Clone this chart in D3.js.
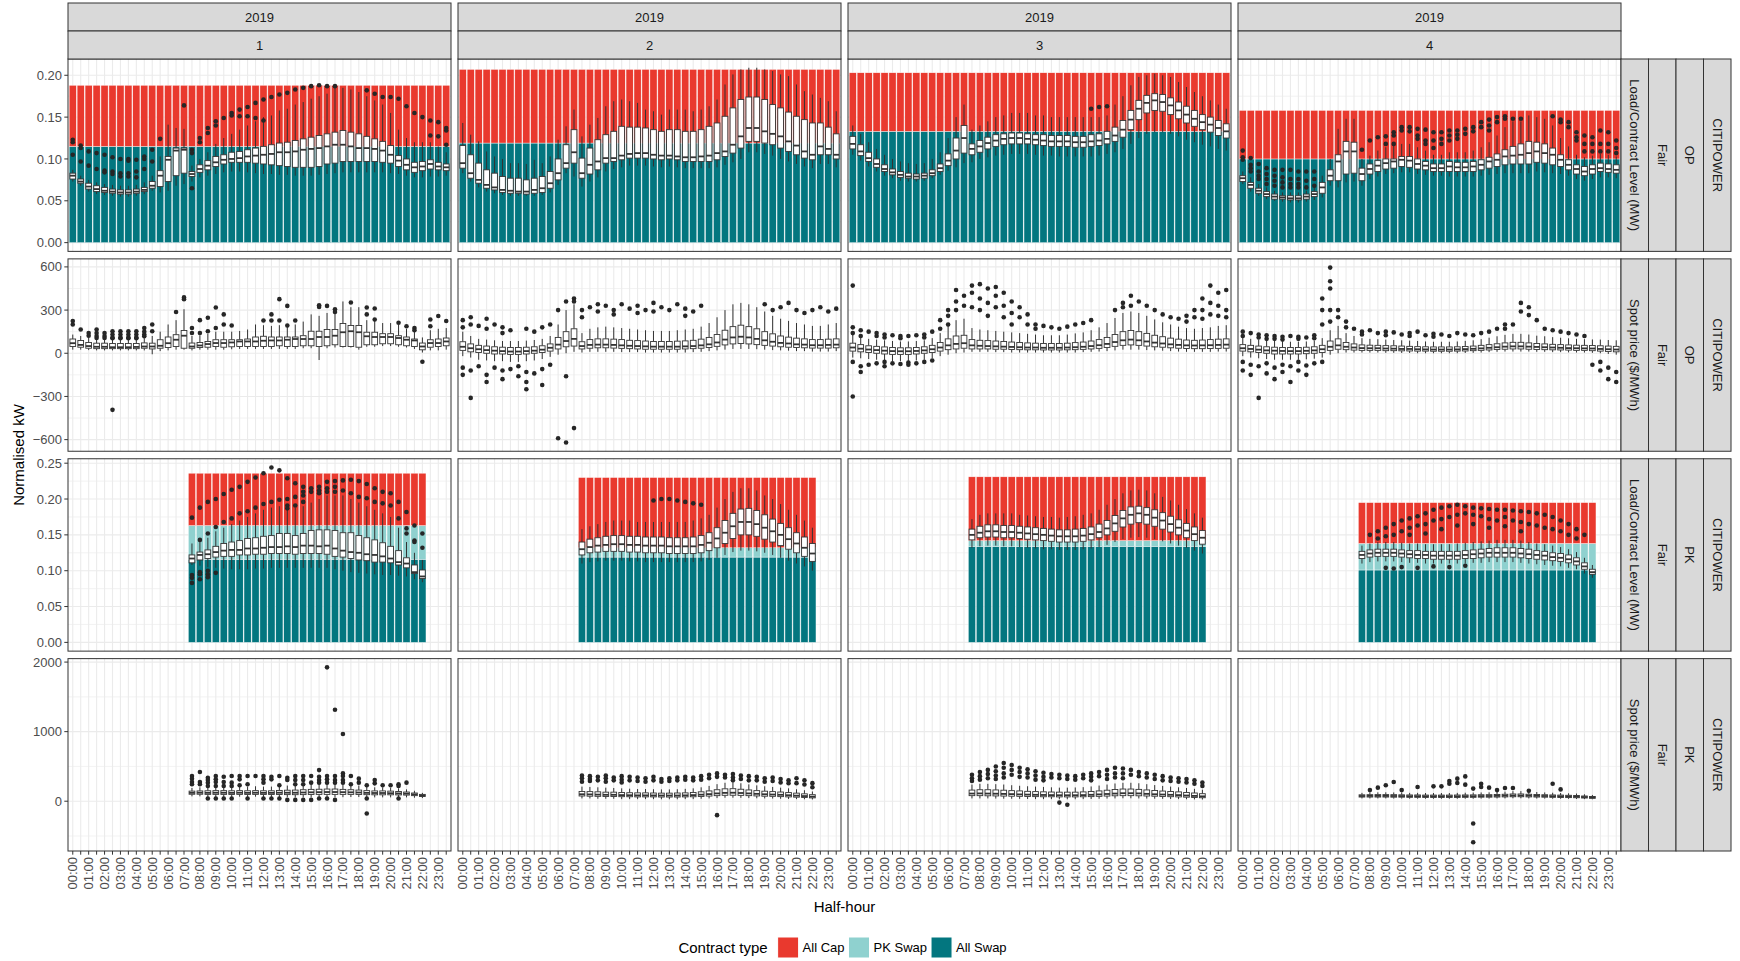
<!DOCTYPE html>
<html>
<head>
<meta charset="utf-8">
<script src="https://cdn.jsdelivr.net/npm/d3@7"></script>
<style>
  body { margin: 0; background: #fff; }
  text { font-family: "Liberation Sans", Arial, sans-serif; }
</style>
</head>
<body>
<svg id="chart" width="1740" height="961"></svg>
<script>
// ---- categories / labels ----
const slots = ["00:00","00:30","01:00","01:30","02:00","02:30","03:00","03:30","04:00","04:30","05:00","05:30",
  "06:00","06:30","07:00","07:30","08:00","08:30","09:00","09:30","10:00","10:30","11:00","11:30",
  "12:00","12:30","13:00","13:30","14:00","14:30","15:00","15:30","16:00","16:30","17:00","17:30",
  "18:00","18:30","19:00","19:30","20:00","20:30","21:00","21:30","22:00","22:30","23:00","23:30"];
const pkSlotRange = ["07:30", "22:00"];
const quarters = ["1", "2", "3", "4"];
const yearLabel = "2019";
const measureLabels = ["Load/Contract Level (MW)", "Spot price ($/MWh)"];
const periodLabels = ["OP", "PK"];
const scenarioLabel = "Fair";
const regionLabel = "CITIPOWER";

const contractTypes = ["All Cap", "PK Swap", "All Swap"];
const contractColors = ["#E9392E", "#8FD1CF", "#03767F"];

// contract levels (MW) per quarter, stacked: All Swap + PK Swap + All Cap
const opAllSwap = [0.115, 0.119, 0.133, 0.100];
const opPkSwap  = [0, 0, 0, 0];
const opAllCap  = [0.073, 0.088, 0.070, 0.058];
const pkAllSwap = [0.116, 0.119, 0.134, 0.101];
const pkPkSwap  = [0.047, 0.013, 0.008, 0.037];
const pkAllCap  = [0.073, 0.098, 0.089, 0.057];

// y ticks per row
const opLoadTicks = [0, 0.05, 0.10, 0.15, 0.20];
const opSpotTicks = [-600, -300, 0, 300, 600];
const pkLoadTicks = [0, 0.05, 0.10, 0.15, 0.20, 0.25];
const pkSpotTicks = [0, 1000, 2000];

// ---- box plots: [lower whisker, q1, median, q3, upper whisker] per half-hour ----
// OP load (MW), 48 half-hours
const opLoadQ1 = [
[.073,.076,.080,.083,.087],[.068,.071,.073,.076,.080],[.061,.064,.067,.071,.075],[.058,.061,.064,.068,.072],
[.057,.060,.062,.066,.070],[.056,.059,.061,.064,.069],[.055,.058,.060,.063,.068],[.055,.058,.060,.063,.068],
[.056,.059,.061,.064,.069],[.058,.061,.063,.066,.072],[.062,.065,.068,.073,.080],[.060,.067,.080,.086,.103],
[.062,.073,.099,.103,.141],[.068,.080,.110,.113,.137],[.070,.083,.111,.113,.136],[.073,.079,.082,.085,.092],
[.078,.084,.088,.093,.100],[.080,.087,.092,.098,.108],[.082,.091,.096,.103,.118],[.084,.094,.099,.105,.125],
[.085,.096,.100,.108,.130],[.085,.096,.101,.109,.135],[.084,.096,.103,.111,.140],[.083,.095,.104,.113,.145],
[.082,.094,.105,.115,.150],[.082,.093,.106,.117,.152],[.081,.092,.108,.119,.158],[.081,.091,.108,.120,.160],
[.080,.090,.109,.122,.165],[.080,.090,.111,.124,.168],[.080,.090,.112,.126,.172],[.081,.091,.113,.128,.175],
[.082,.094,.115,.130,.178],[.083,.095,.117,.132,.185],[.084,.097,.117,.134,.185],[.084,.097,.115,.132,.183],
[.084,.097,.113,.130,.180],[.084,.097,.113,.127,.175],[.084,.097,.112,.124,.170],[.084,.096,.110,.121,.165],
[.083,.095,.105,.116,.155],[.082,.091,.098,.104,.135],[.080,.087,.093,.100,.125],[.078,.084,.090,.096,.120],
[.078,.086,.091,.097,.120],[.079,.088,.094,.099,.120],[.079,.087,.091,.096,.115],[.080,.086,.090,.094,.108]];
const opLoadQ2 = [
[.083,.089,.095,.116,.143],[.073,.077,.083,.105,.129],[.066,.071,.075,.095,.121],[.061,.065,.069,.087,.109],
[.059,.063,.066,.083,.103],[.057,.060,.063,.079,.100],[.056,.059,.062,.077,.095],[.056,.059,.061,.077,.095],
[.056,.058,.061,.075,.094],[.056,.059,.063,.077,.099],[.057,.060,.065,.079,.095],[.060,.065,.071,.085,.103],
[.069,.075,.083,.100,.123],[.083,.089,.095,.117,.139],[.079,.095,.108,.135,.159],[.067,.077,.083,.101,.127],
[.073,.082,.093,.113,.141],[.078,.087,.097,.123,.149],[.085,.095,.101,.129,.163],[.088,.097,.101,.133,.169],
[.090,.099,.104,.139,.171],[.092,.101,.106,.138,.169],[.092,.101,.107,.138,.167],[.092,.101,.107,.137,.159],
[.091,.100,.105,.135,.157],[.090,.099,.104,.133,.153],[.091,.100,.104,.135,.159],[.090,.099,.103,.135,.159],
[.089,.097,.102,.133,.159],[.089,.097,.102,.133,.157],[.089,.097,.103,.135,.159],[.089,.097,.104,.139,.163],
[.090,.099,.107,.143,.171],[.093,.103,.109,.151,.189],[.096,.107,.117,.161,.201],[.100,.113,.127,.171,.207],
[.108,.121,.137,.174,.209],[.108,.121,.137,.174,.209],[.106,.119,.133,.171,.207],[.104,.117,.130,.165,.205],
[.100,.113,.127,.161,.201],[.097,.109,.121,.156,.199],[.094,.105,.116,.151,.189],[.091,.101,.109,.147,.181],
[.089,.099,.105,.143,.177],[.094,.105,.115,.143,.173],[.094,.105,.112,.138,.169],[.090,.100,.105,.130,.157]];
const opLoadQ3 = [
[.105,.112,.118,.127,.140],[.098,.104,.109,.117,.130],[.091,.097,.101,.108,.120],[.085,.090,.094,.100,.112],
[.080,.085,.088,.093,.105],[.077,.081,.084,.088,.100],[.074,.078,.081,.085,.097],[.073,.077,.079,.083,.095],
[.073,.076,.079,.082,.094],[.074,.077,.080,.083,.095],[.077,.080,.083,.087,.100],[.081,.085,.089,.094,.108],
[.086,.092,.098,.106,.125],[.090,.100,.110,.125,.150],[.095,.107,.125,.140,.165],[.096,.105,.112,.118,.135],
[.100,.108,.115,.122,.140],[.102,.112,.119,.126,.145],[.104,.115,.122,.129,.150],[.105,.117,.124,.130,.152],
[.106,.118,.125,.131,.155],[.106,.118,.125,.131,.155],[.106,.118,.124,.130,.155],[.105,.117,.123,.129,.152],
[.104,.116,.122,.129,.152],[.104,.115,.121,.128,.150],[.103,.115,.121,.128,.150],[.103,.115,.121,.128,.150],
[.103,.114,.120,.127,.150],[.103,.114,.120,.127,.150],[.103,.115,.121,.129,.150],[.104,.116,.122,.130,.150],
[.106,.118,.124,.133,.152],[.108,.121,.128,.138,.165],[.112,.126,.135,.146,.175],[.118,.135,.147,.158,.188],
[.125,.147,.160,.170,.198],[.130,.155,.167,.176,.200],[.132,.158,.170,.178,.202],[.132,.157,.168,.177,.200],
[.130,.153,.164,.173,.198],[.127,.148,.158,.168,.192],[.123,.143,.153,.163,.186],[.120,.139,.148,.158,.180],
[.117,.135,.144,.153,.175],[.115,.132,.141,.150,.170],[.112,.128,.137,.146,.165],[.110,.125,.133,.142,.160]];
const opLoadQ4 = [
[.070,.073,.077,.080,.085],[.061,.065,.069,.072,.078],[.056,.059,.062,.065,.070],[.052,.055,.058,.061,.066],
[.050,.052,.055,.058,.062],[.049,.052,.054,.056,.060],[.048,.051,.053,.056,.060],[.048,.051,.053,.056,.060],
[.049,.052,.055,.058,.062],[.051,.055,.058,.061,.066],[.054,.059,.066,.072,.080],[.068,.074,.080,.087,.100],
[.066,.074,.097,.105,.136],[.072,.082,.109,.121,.148],[.073,.083,.109,.120,.148],[.068,.074,.082,.089,.100],
[.076,.082,.088,.094,.104],[.079,.085,.092,.098,.110],[.082,.088,.095,.100,.114],[.083,.089,.097,.100,.116],
[.084,.091,.099,.103,.118],[.084,.090,.098,.103,.118],[.082,.088,.094,.100,.114],[.081,.087,.092,.097,.110],
[.080,.085,.089,.094,.105],[.080,.085,.089,.094,.105],[.079,.085,.091,.097,.108],[.079,.085,.090,.096,.108],
[.079,.085,.090,.096,.108],[.079,.085,.091,.097,.110],[.080,.087,.093,.099,.114],[.081,.089,.097,.102,.120],
[.082,.091,.099,.106,.128],[.083,.093,.103,.111,.138],[.083,.094,.104,.115,.145],[.083,.094,.105,.118,.145],
[.083,.094,.107,.121,.152],[.085,.096,.109,.120,.150],[.084,.095,.107,.118,.148],[.083,.093,.105,.113,.140],
[.082,.091,.099,.105,.125],[.080,.087,.093,.099,.115],[.076,.082,.088,.093,.105],[.074,.080,.085,.091,.102],
[.076,.082,.088,.093,.104],[.078,.085,.089,.095,.106],[.078,.084,.088,.094,.105],[.077,.083,.087,.093,.103]];

// OP spot price ($/MWh), 48 half-hours
const opSpotQ1 = [
[25,47,70,99,130],[25,42,58,89,120],[22,35,50,75,110],[20,32,45,70,100],[20,32,45,70,100],[20,32,42,68,98],
[20,32,42,68,98],[20,32,42,68,98],[20,32,44,68,98],[20,35,47,72,105],[-7,30,47,70,120],[15,35,52,94,150],
[20,40,70,113,200],[25,47,94,129,230],[25,35,122,158,306],[20,35,47,71,120],[25,40,54,75,125],[25,42,64,82,135],
[25,47,71,94,150],[25,42,71,94,150],[28,45,75,94,150],[30,47,82,94,155],[30,47,82,99,165],[30,47,82,113,200],
[30,47,87,118,195],[30,47,89,113,190],[30,52,89,113,195],[30,47,94,113,185],[30,47,99,113,200],[35,52,99,122,220],
[35,52,99,153,270],[-47,47,113,153,260],[35,52,113,165,280],[40,59,122,165,275],[40,47,146,207,360],[40,47,153,193,320],
[25,42,146,193,320],[45,59,118,146,230],[45,59,113,146,230],[50,66,113,136,210],[50,66,113,136,210],[45,59,106,122,200],
[40,52,94,113,170],[30,47,89,99,150],[5,24,47,71,110],[20,42,71,94,160],[20,47,71,99,170],[25,52,82,106,175]];
const opSpotQ2 = [
[-20,20,45,80,150],[-30,10,35,65,120],[-45,5,28,55,100],[-50,0,22,50,95],[-55,-5,18,45,90],[-55,-5,15,42,85],
[-60,-8,12,40,85],[-60,-8,12,40,85],[-55,-5,15,42,88],[-50,0,18,45,92],[-40,5,25,52,100],[-25,15,38,65,120],
[-10,30,60,110,200],[0,45,85,150,300],[10,50,100,170,340],[5,30,50,80,140],[10,35,58,95,170],[10,38,60,100,180],
[10,38,60,100,185],[10,36,58,98,180],[8,34,55,95,175],[8,32,52,90,170],[8,30,50,88,165],[5,28,48,85,160],
[5,28,46,82,155],[5,28,46,82,155],[5,28,46,82,155],[5,28,46,84,160],[5,30,48,86,165],[8,32,50,90,170],
[10,35,55,98,185],[15,40,62,110,210],[20,48,75,130,250],[25,58,95,160,300],[30,65,110,185,340],[30,68,115,195,350],
[30,65,110,185,340],[28,60,100,170,320],[25,55,90,150,290],[22,50,80,135,260],[20,45,72,120,240],[18,42,68,112,225],
[15,40,62,105,210],[15,38,60,100,200],[12,36,56,95,190],[12,36,56,95,190],[12,36,58,98,200],[15,38,60,100,210]];
const opSpotQ3 = [
[-30,15,40,70,130],[-35,10,32,60,115],[-40,5,26,52,100],[-45,0,22,48,95],[-50,-5,18,44,90],[-55,-8,15,40,85],
[-55,-8,14,38,82],[-55,-8,14,38,82],[-50,-5,16,40,85],[-45,0,20,45,90],[-35,5,28,55,105],[-20,15,40,75,140],
[-10,25,55,100,190],[0,30,65,120,230],[5,35,70,125,240],[10,30,55,95,175],[10,30,52,90,165],[10,30,50,88,160],
[8,28,48,85,155],[8,28,46,82,150],[5,26,44,78,145],[5,25,42,75,140],[5,24,40,72,135],[5,24,40,70,130],
[5,23,38,68,125],[5,23,38,68,125],[5,23,38,68,125],[5,24,40,70,130],[5,25,42,74,138],[8,27,45,78,145],
[10,30,50,85,160],[12,34,56,95,180],[15,40,65,110,210],[20,48,78,130,245],[25,55,90,150,280],[25,58,95,158,290],
[25,55,90,150,280],[22,50,82,138,260],[20,45,74,125,235],[18,42,68,115,215],[15,38,62,105,200],[12,35,58,98,185],
[10,33,55,92,175],[10,32,54,90,170],[10,32,55,92,175],[10,33,56,95,180],[12,34,58,98,190],[12,35,60,100,195]];
const opSpotQ4 = [
[-20,15,35,60,110],[-30,10,30,55,100],[-35,5,25,50,95],[-40,0,20,45,90],[-45,-5,18,42,85],[-45,-5,16,40,82],
[-45,-5,15,40,80],[-45,-5,15,40,80],[-42,-3,17,42,82],[-38,0,20,45,88],[-30,5,28,55,105],[-10,20,45,85,160],
[0,28,55,100,190],[5,25,45,75,140],[5,22,40,65,120],[5,20,36,58,105],[5,20,35,56,100],[5,20,35,55,98],
[3,18,33,53,95],[3,18,32,52,92],[2,17,30,50,90],[2,16,30,48,88],[0,15,28,46,85],[0,15,27,45,82],
[0,14,26,44,80],[0,14,26,44,80],[0,14,26,44,80],[0,15,27,45,82],[2,16,29,47,86],[3,18,31,50,90],
[5,20,34,55,98],[8,23,38,60,108],[10,26,42,66,118],[12,28,46,72,128],[12,30,48,76,135],[12,30,48,76,135],
[12,28,46,72,130],[10,26,44,68,122],[10,25,42,65,118],[8,24,40,62,112],[8,23,38,60,108],[6,22,36,58,104],
[5,20,35,56,100],[5,20,34,55,98],[3,18,33,54,96],[0,15,30,52,95],[-5,12,28,50,92],[-10,10,26,48,90]];

// PK load (MW), half-hours 07:30 .. 22:00
const pkLoadQ1 = [
[.108,.111,.117,.122,.138],[.107,.115,.122,.126,.140],[.105,.117,.123,.129,.146],[.104,.119,.126,.134,.155],
[.103,.120,.128,.138,.160],[.102,.120,.129,.140,.165],[.102,.122,.129,.142,.170],[.102,.122,.131,.145,.175],
[.103,.123,.131,.146,.180],[.103,.123,.132,.148,.185],[.104,.124,.133,.149,.188],[.104,.124,.133,.152,.190],
[.104,.124,.134,.152,.185],[.104,.123,.133,.149,.188],[.104,.124,.135,.152,.190],[.104,.124,.135,.156,.195],
[.104,.124,.134,.157,.200],[.104,.123,.135,.157,.205],[.102,.120,.131,.156,.205],[.100,.119,.128,.153,.205],
[.098,.117,.126,.153,.200],[.097,.115,.125,.149,.195],[.096,.114,.123,.146,.190],[.095,.112,.122,.143,.185],
[.094,.112,.120,.139,.180],[.094,.111,.117,.134,.175],[.093,.108,.112,.128,.160],[.092,.104,.110,.118,.140],
[.088,.096,.098,.108,.125],[.084,.089,.092,.101,.115]];
const pkLoadQ2 = [
[.110,.122,.130,.140,.158],[.112,.125,.133,.144,.162],[.113,.126,.135,.146,.165],[.114,.127,.136,.148,.168],
[.114,.127,.137,.149,.170],[.114,.127,.137,.149,.170],[.113,.126,.136,.148,.170],[.113,.126,.136,.148,.168],
[.112,.125,.135,.147,.168],[.112,.125,.135,.147,.168],[.112,.125,.135,.147,.168],[.112,.124,.134,.146,.168],
[.112,.124,.134,.146,.168],[.112,.124,.134,.146,.168],[.112,.124,.134,.147,.170],[.113,.125,.136,.149,.173],
[.115,.128,.139,.153,.178],[.118,.132,.145,.160,.188],[.122,.138,.153,.170,.200],[.126,.145,.162,.180,.210],
[.128,.150,.168,.186,.215],[.128,.150,.168,.187,.215],[.127,.148,.165,.184,.212],[.125,.144,.160,.178,.205],
[.122,.140,.155,.172,.200],[.118,.135,.150,.166,.193],[.114,.130,.144,.160,.185],[.110,.125,.138,.153,.178],
[.106,.120,.132,.147,.170],[.100,.113,.124,.138,.160]];
const pkLoadQ3 = [
[.132,.143,.150,.158,.172],[.134,.146,.153,.162,.178],[.135,.147,.155,.164,.180],[.135,.147,.155,.164,.180],
[.134,.146,.154,.163,.180],[.134,.146,.154,.163,.180],[.133,.145,.153,.162,.178],[.132,.144,.152,.161,.177],
[.131,.143,.151,.160,.176],[.130,.142,.150,.159,.175],[.130,.141,.149,.158,.175],[.129,.140,.148,.157,.174],
[.129,.140,.148,.157,.175],[.129,.140,.148,.158,.176],[.130,.141,.149,.159,.178],[.131,.143,.151,.161,.180],
[.133,.146,.154,.165,.185],[.136,.150,.159,.170,.192],[.140,.155,.166,.177,.200],[.144,.161,.173,.184,.208],
[.146,.165,.178,.189,.212],[.147,.167,.180,.190,.213],[.146,.165,.178,.188,.212],[.144,.162,.174,.185,.208],
[.141,.158,.170,.181,.203],[.138,.154,.165,.176,.198],[.135,.150,.160,.171,.192],[.132,.146,.156,.166,.186],
[.128,.142,.151,.161,.180],[.124,.137,.146,.156,.174]];
const pkLoadQ4 = [
[.110,.117,.122,.127,.135],[.112,.119,.124,.129,.138],[.113,.120,.125,.130,.140],[.113,.120,.125,.130,.140],
[.113,.120,.125,.130,.140],[.112,.119,.124,.129,.139],[.111,.118,.123,.128,.138],[.111,.117,.122,.128,.138],
[.110,.117,.122,.127,.137],[.110,.116,.121,.127,.137],[.110,.116,.121,.127,.137],[.110,.116,.121,.127,.137],
[.110,.116,.121,.127,.138],[.110,.117,.122,.128,.139],[.111,.117,.123,.129,.140],[.111,.118,.124,.130,.141],
[.112,.119,.125,.131,.142],[.112,.119,.125,.132,.143],[.112,.119,.125,.132,.143],[.112,.119,.125,.132,.143],
[.111,.118,.124,.131,.142],[.110,.117,.123,.130,.140],[.109,.116,.122,.128,.138],[.108,.115,.121,.127,.137],
[.107,.114,.119,.125,.135],[.106,.113,.118,.124,.133],[.104,.111,.116,.122,.130],[.102,.108,.113,.118,.126],
[.096,.102,.106,.111,.118],[.090,.095,.098,.102,.108]];

// PK spot price ($/MWh), half-hours 07:30 .. 22:00
const pkSpotQ1 = [
[70,100,120,145,190],[70,100,122,148,200],[60,98,120,150,210],[60,98,122,152,215],[60,98,122,152,215],[60,96,120,150,210],
[65,98,122,152,215],[60,96,120,150,210],[65,98,122,152,215],[60,96,120,150,210],[60,96,120,150,210],[60,96,122,155,220],
[58,95,122,158,225],[55,94,122,160,230],[55,95,125,165,235],[55,96,128,170,245],[58,98,130,172,250],[58,98,132,175,255],
[58,98,132,175,255],[58,98,130,170,245],[60,98,128,165,235],[60,96,125,160,225],[55,94,120,152,210],[55,92,118,148,200],
[55,92,118,148,200],[55,92,115,145,195],[55,90,112,140,185],[55,88,108,132,170],[50,80,98,118,150],[45,68,82,98,120]];
const pkSpotQ2 = [
[40,75,100,140,210],[40,72,98,138,205],[35,70,95,135,200],[35,68,92,130,195],[35,68,92,130,190],[30,65,88,125,185],
[30,64,86,122,180],[30,62,84,120,175],[30,62,84,120,175],[30,62,83,118,172],[28,60,82,116,170],[28,60,82,116,170],
[28,60,82,118,172],[30,62,84,120,178],[30,64,88,126,185],[35,68,94,135,200],[40,74,102,148,220],[45,80,112,165,245],
[50,85,120,178,265],[50,86,122,180,270],[48,84,118,172,258],[45,80,112,162,242],[42,76,106,152,228],[40,72,100,144,215],
[38,70,96,138,205],[35,66,92,132,195],[32,62,86,124,185],[30,58,80,116,172],[28,54,74,106,158],[25,48,66,94,140]];
const pkSpotQ3 = [
[40,80,110,160,240],[40,80,112,165,250],[40,78,110,165,250],[38,76,108,162,245],[36,74,105,158,240],[35,72,102,152,230],
[34,70,98,148,222],[32,68,95,142,215],[30,66,92,138,210],[30,64,90,135,205],[30,64,88,132,200],[28,62,86,130,195],
[28,62,86,130,195],[28,62,86,130,198],[30,64,88,134,202],[32,66,92,140,212],[35,70,98,148,225],[38,74,104,158,240],
[40,78,110,168,255],[42,80,115,175,265],[42,80,115,175,265],[40,78,112,170,258],[38,75,106,162,245],[36,72,100,154,232],
[34,68,96,146,220],[32,65,92,140,210],[30,62,88,134,200],[28,58,82,126,190],[26,54,76,118,178],[24,50,70,108,165]];
const pkSpotQ4 = [
[40,60,75,92,120],[40,60,76,94,125],[40,60,76,95,128],[40,60,76,95,128],[38,58,75,94,126],[38,58,74,92,124],
[36,56,72,90,120],[36,56,72,90,120],[35,55,70,88,118],[35,55,70,88,118],[35,55,70,88,118],[35,55,70,88,118],
[35,55,70,89,120],[36,56,72,90,122],[36,56,72,91,124],[38,58,74,93,126],[38,58,75,94,128],[40,60,77,96,132],
[40,62,80,100,138],[42,64,82,104,145],[42,64,82,104,145],[40,62,80,100,138],[38,60,77,96,132],[38,58,75,93,126],
[36,56,72,90,122],[35,54,70,88,118],[34,52,68,85,114],[32,50,65,82,110],[30,46,60,75,100],[28,42,55,68,90]];

// ---- outliers: [half-hour index into slots, value, value, ...] ----
const opLoadOutQ1 = [[0,.123,.120,.105],[1,.116,.113,.097],[2,.109,.092],[3,.107,.088],[4,.105,.086,.084],
[5,.102,.085,.082],[6,.100,.083,.079],[7,.100,.098,.083,.079],[8,.099,.085,.078],[9,.103,.100,.088],[10,.111,.097],
[11,.124],[14,.164],[15,.111,.107,.065],[16,.125,.120],[17,.137,.131],[18,.145,.140],[19,.149],[20,.155,.152],
[21,.159,.151],[22,.162,.151],[23,.167,.149],[24,.171,.146],[25,.174],[26,.177],[27,.179],[28,.183],[29,.185],
[30,.187],[31,.188],[32,.187],[33,.187],[37,.182],[38,.178],[39,.174],[40,.174],[41,.172],[42,.163],[43,.155],
[44,.150],[45,.146,.128],[46,.144,.127],[47,.137,.134,.117]];
const opLoadOutQ2 = [];
const opLoadOutQ3 = [[30,.160],[31,.162],[32,.163]];
const opLoadOutQ4 = [[0,.110,.102,.099],[1,.101,.093,.089,.085],[2,.094,.085,.080,.076],[3,.089,.082,.076,.070],
[4,.087,.080,.074,.068],[5,.087,.078,.072,.066],[6,.087,.076,.070,.066],[7,.085,.076,.070,.066],[8,.085,.074,.066],
[9,.085,.076,.068],[15,.111],[16,.122],[17,.126],[18,.127,.118],[19,.132,.128,.118],[20,.138,.134],[21,.138,.133],
[22,.136,.128,.124],[23,.135,.122,.118],[24,.132,.122,.113],[25,.132,.124,.118],[26,.134,.128,.122],[27,.134,.129,.124],
[28,.136,.130],[29,.138,.133],[30,.144,.138],[31,.147,.140,.134],[32,.150,.144],[33,.151,.148],[34,.148],[35,.148],
[39,.151],[40,.147,.144],[41,.144,.138],[42,.132,.126,.122],[43,.128,.118,.109],[44,.126,.118,.109],
[45,.134,.118,.109],[46,.132,.118,.109],[47,.122,.113,.107]];

const opSpotOutQ1 = [[0,224,200],[1,165],[2,141,122],[3,165,140,120,106],[4,141,120,106],[5,153,130,110,104,-393],
[6,153,130,110,104],[7,153,130,110,104],[8,153,130,110,104],[9,176,150,130,118],[10,200,153],[13,287],[14,388,376],
[15,176,141],[16,230,141],[17,247,153],[18,318,176],[19,270,200],[20,193],[24,228],[25,270,228],[26,376,228],
[27,329,193],[28,228],[31,334,322],[32,329],[33,306,287],[35,353],[37,318,270],[38,311,235],[41,212],[42,188],
[43,176,160],[44,-59],[45,235,188],[46,259],[47,224]];
const opSpotOutQ2 = [[0,230,180,-100,-150],[1,250,200,-120,-310],[2,190,-90],[3,240,170,-150,-200],[4,200,-100],
[5,180,140,-180,-120],[6,160,-110],[7,-90,-160],[8,170,-200,-250,-130],[9,150,-140],[10,180,-110,-220],[11,200,-80],
[12,300,-590],[13,360,-620,-160],[14,380,360,-520],[15,300,250],[16,320],[17,340,290],[18,330],[19,300,270],
[20,340],[21,310],[22,330,280],[23,300],[24,350,290],[25,320],[26,300],[27,340],[28,310,260],[29,290],[30,330],
[38,340],[39,300],[40,320],[41,350],[42,300],[43,280],[44,300],[45,320],[46,290],[47,310]];
const opSpotOutQ3 = [[0,470,180,140,-300,-60],[1,160,120,-90,-130],[2,150,-80],[3,140,120,-70],[4,130,110,-60,-90],
[5,125,-70],[6,120,105,-75],[7,120,-65,-80],[8,125,-70],[9,130,110,-60],[10,150,-50],[11,230,170],[12,300,260,200],
[13,440,360,300],[14,400,330],[15,470,420,320],[16,480,380,300],[17,450,350,260],[18,460,400,320],[19,420,330,250],
[20,360,280,200],[21,320,250],[22,270,200],[23,200,170],[24,190],[25,180],[26,170],[27,185],[28,200],[29,210],
[30,230],[33,300],[34,350,320],[35,400,330],[36,360],[37,330],[38,300],[39,270],[40,250],[41,240],[42,260,220],
[43,300,250],[44,380,300,240],[45,470,350,270],[46,420,330,260],[47,440,300,250]];
const opSpotOutQ4 = [[0,150,120,-60,-120],[1,140,-80,-150],[2,130,110,-90,-310],[3,125,100,-70,-140],[4,120,100,-100,-180],
[5,115,95,-80,-130],[6,120,-90,-200],[7,115,100,-60,-120],[8,110,-85,-150],[9,125,105,-70],[10,380,300,200,-60],
[11,595,500,450,300,220],[12,300,250],[13,220,180],[14,170],[15,150,130],[16,160],[17,140],[18,150,125],[19,145],
[20,130],[21,140,120],[22,150],[23,125],[24,135,115],[25,130],[26,120],[27,140],[28,130],[29,125],[30,140],[31,150],
[32,170],[33,200,170],[34,200],[35,350,290],[36,320,265],[37,230],[38,170],[39,160],[40,150],[41,140],[42,130],
[43,120],[44,-80],[45,-120,-60],[46,-180,-100],[47,-200,-130]];

const pkLoadOutQ1 = [[15,.174,.094,.090,.083],[16,.188,.143,.098,.095,.088],[17,.196,.152,.100,.095,.091],[18,.200,.161,.097],
[19,.207,.168],[20,.213,.173],[21,.217,.180],[22,.224,.183],[23,.230,.188],[24,.236,.193],[25,.244,.196],[26,.240,.199],
[27,.229,.200,.191,.187],[28,.222,.203,.191],[29,.217,.210,.205,.196],[30,.215,.210],[31,.217,.212,.208],[32,.224,.215,.210],
[33,.225,.217,.210],[34,.226,.212],[35,.227,.208],[36,.225,.203],[37,.221,.201],[38,.215,.196],[39,.210,.194],
[40,.208,.191],[41,.196,.173],[42,.182,.159,.152],[43,.163,.142,.140],[44,.152,.132]];
const pkLoadOutQ2 = [[24,.198],[25,.200],[26,.200],[27,.198],[28,.196],[29,.194],[30,.192]];
const pkLoadOutQ3 = [];
const pkLoadOutQ4 = [[16,.150],[17,.155,.145],[18,.160,.148,.104],[19,.165,.150,.103],[20,.170,.155,.105],[21,.173,.160,.150],
[22,.176,.163,.104],[23,.180,.165,.152],[24,.185,.170,.106],[25,.188,.172,.158],[26,.190,.175,.105],[27,.192,.178,.163],
[28,.190,.180,.107],[29,.188,.178,.165],[30,.187,.176],[31,.186,.172,.160],[32,.185,.170],[33,.185,.175,.162],[34,.184,.170],
[35,.183,.168,.155],[36,.182,.165],[37,.180,.163],[38,.178,.160],[39,.175,.158],[40,.170,.155],[41,.165,.150],
[42,.158,.145],[43,.150]];

const pkSpotOutQ1 = [[15,362,324,276,243],[16,419,276,243],[17,338,305,267,219,38],[18,362,314,276,219,38],[19,352,276,219,38],
[20,362,267,219,38],[21,362,314,229],[22,362,243,38],[23,362],[24,362,314,267,38],[25,352,314,38],[26,362,229,38],
[27,338,305,19],[28,362,305,243,19],[29,362,305,243,19],[30,362,267,19],[31,447,352,305,267,38],[32,1924,362,314,267,38],
[33,1314,362,305,267,19],[34,967,400,362,305,267],[35,362,243],[36,324,267],[37,229,38,-176],[38,305,257],[39,229],
[40,229],[41,243,219,38],[42,267]];
const pkSpotOutQ2 = [[15,370,330,280],[16,360,320,290],[17,350,300],[18,370,330,280],[19,340,300],[20,360,310,270],[21,350,300],
[22,340,290],[23,330,280],[24,350,300],[25,320,280],[26,330,290],[27,340,300],[28,350,310],[29,340,300],[30,360,310],
[31,380,330],[32,400,350,-200],[33,380,340],[34,390,340,300],[35,370,320],[36,360,300],[37,350,300],[38,330,280],
[39,340,290],[40,320,270],[41,300,260],[42,330,260],[43,300,240],[44,260,200]];
const pkSpotOutQ3 = [[15,380,330,290],[16,420,360,310],[17,450,390,330],[18,500,430,370,320],[19,550,480,400,340],
[20,520,450,380],[21,480,420,350],[22,460,400,340],[23,430,370,310],[24,410,350,300],[25,390,340],[26,380,330,-20],
[27,370,320,-50],[28,360,310],[29,380,330],[30,400,350,300],[31,420,360],[32,450,380,320],[33,480,400,340],
[34,470,400,330],[35,450,380],[36,420,360],[37,400,340],[38,380,320],[39,360,300],[40,340,290],[41,330,280],
[42,320,270],[43,300,250],[44,270,220]];
const pkSpotOutQ4 = [[16,160],[17,195],[18,229],[19,276],[20,160],[22,205],[24,214],[25,214],[26,290,252],[27,324,262],
[28,357,238],[29,181,-320,-590],[30,252,205],[31,195],[32,160],[33,190],[34,190],[36,150],[39,252],[40,170]];

// ---- layout ----
const plotLeft = 68, plotRight = 1621, plotTop = 59, plotBottom = 851;
const colGap = 7, rowGap = 7.5, stripH = 28, stripW = 27.5;
const panelW = (plotRight - plotLeft - 3 * colGap) / 4;
const panelH = (plotBottom - plotTop - 3 * rowGap) / 4;
const gridColor = "#EBEBEB", inkColor = "#333333";

const pkSlots = slots.slice(slots.indexOf(pkSlotRange[0]), slots.indexOf(pkSlotRange[1]) + 1);

// stacked contract tables, one per period
function contractTable(allSwap, pkSwap, allCap) {
  return quarters.map((q, i) => ({ quarter: q, "All Swap": allSwap[i], "PK Swap": pkSwap[i], "All Cap": allCap[i] }));
}
const stackKeys = ["All Swap", "PK Swap", "All Cap"];
const stack = d3.stack().keys(stackKeys);
const opStack = stack(contractTable(opAllSwap, opPkSwap, opAllCap));
const pkStack = stack(contractTable(pkAllSwap, pkPkSwap, pkAllCap));
const color = d3.scaleOrdinal().domain(contractTypes).range(contractColors);

const rowDefs = [
  { measure: measureLabels[0], period: periodLabels[0], xs: slots, stacked: opStack, ticks: opLoadTicks, fmt: d3.format(".2f"),
    boxes: [opLoadQ1, opLoadQ2, opLoadQ3, opLoadQ4], outs: [opLoadOutQ1, opLoadOutQ2, opLoadOutQ3, opLoadOutQ4] },
  { measure: measureLabels[1], period: periodLabels[0], xs: slots, stacked: null, ticks: opSpotTicks, fmt: d3.format("d"),
    boxes: [opSpotQ1, opSpotQ2, opSpotQ3, opSpotQ4], outs: [opSpotOutQ1, opSpotOutQ2, opSpotOutQ3, opSpotOutQ4] },
  { measure: measureLabels[0], period: periodLabels[1], xs: pkSlots, stacked: pkStack, ticks: pkLoadTicks, fmt: d3.format(".2f"),
    boxes: [pkLoadQ1, pkLoadQ2, pkLoadQ3, pkLoadQ4], outs: [pkLoadOutQ1, pkLoadOutQ2, pkLoadOutQ3, pkLoadOutQ4] },
  { measure: measureLabels[1], period: periodLabels[1], xs: pkSlots, stacked: null, ticks: pkSpotTicks, fmt: d3.format("d"),
    boxes: [pkSpotQ1, pkSpotQ2, pkSpotQ3, pkSpotQ4], outs: [pkSpotOutQ1, pkSpotOutQ2, pkSpotOutQ3, pkSpotOutQ4] }
];

// free y per row, 5% expansion like ggplot
function rowDomain(r) {
  const vals = [];
  r.boxes.forEach(p => p.forEach(b => vals.push(b[0], b[4])));
  r.outs.forEach(p => p.forEach(o => vals.push(...o.slice(1))));
  if (r.stacked) r.stacked.forEach(s => s.forEach(d => vals.push(d[0], d[1])));
  const [lo, hi] = d3.extent(vals);
  const pad = (hi - lo) * 0.05;
  return [lo - pad, hi + pad];
}

const x = d3.scaleBand().domain(slots).range([0, panelW]).paddingInner(0).paddingOuter(0.1);
const xc = d => x(d) + x.bandwidth() / 2;
const barW = x.bandwidth() * 0.9, boxW = x.bandwidth() * 0.72;

const svg = d3.select("#chart");

rowDefs.forEach((r, ri) => {
  const top = plotTop + ri * (panelH + rowGap);
  const y = d3.scaleLinear().domain(rowDomain(r)).range([panelH, 0]);
  const step = r.ticks[1] - r.ticks[0];
  const minor = [r.ticks[0] - step / 2].concat(r.ticks.map(t => t + step / 2))
    .filter(v => v > y.domain()[0] && v < y.domain()[1]);

  quarters.forEach((q, qi) => {
    const left = plotLeft + qi * (panelW + colGap);
    const g = svg.append("g").attr("transform", `translate(${left},${top})`);
    g.append("rect").attr("width", panelW).attr("height", panelH).attr("fill", "#fff");

    g.selectAll(".minor").data(minor).join("line")
      .attr("x1", 0).attr("x2", panelW).attr("y1", d => y(d)).attr("y2", d => y(d))
      .attr("stroke", gridColor).attr("stroke-width", 0.6);
    g.selectAll(".major").data(r.ticks).join("line")
      .attr("x1", 0).attr("x2", panelW).attr("y1", d => y(d)).attr("y2", d => y(d))
      .attr("stroke", gridColor).attr("stroke-width", 1.1);
    g.selectAll(".vgrid").data(slots).join("line")
      .attr("x1", xc).attr("x2", xc).attr("y1", 0).attr("y2", panelH)
      .attr("stroke", gridColor).attr("stroke-width", 1.1);

    // contract level bars
    if (r.stacked) {
      r.stacked.forEach(series => {
        const seg = series[qi];
        if (seg[1] - seg[0] <= 0) return;
        g.append("g").selectAll("rect").data(r.xs).join("rect")
          .attr("x", d => xc(d) - barW / 2).attr("width", barW)
          .attr("y", y(seg[1])).attr("height", y(seg[0]) - y(seg[1]))
          .attr("fill", color(series.key))
          .attr("stroke", "#fff").attr("stroke-width", 0.5).attr("stroke-opacity", 0.8);
      });
    }

    // box plots
    const boxData = r.boxes[qi].map((b, i) => ({ slot: r.xs[i], b }));
    const bg = g.append("g").selectAll("g").data(boxData).join("g");
    bg.append("line").attr("x1", d => xc(d.slot)).attr("x2", d => xc(d.slot))
      .attr("y1", d => y(d.b[4])).attr("y2", d => y(d.b[3]))
      .attr("stroke", inkColor).attr("stroke-width", 1);
    bg.append("line").attr("x1", d => xc(d.slot)).attr("x2", d => xc(d.slot))
      .attr("y1", d => y(d.b[1])).attr("y2", d => y(d.b[0]))
      .attr("stroke", inkColor).attr("stroke-width", 1);
    bg.append("rect").attr("x", d => xc(d.slot) - boxW / 2).attr("width", boxW)
      .attr("y", d => y(d.b[3])).attr("height", d => Math.max(0.5, y(d.b[1]) - y(d.b[3])))
      .attr("fill", "#fff").attr("stroke", inkColor).attr("stroke-width", 0.9);
    bg.append("line").attr("x1", d => xc(d.slot) - boxW / 2).attr("x2", d => xc(d.slot) + boxW / 2)
      .attr("y1", d => y(d.b[2])).attr("y2", d => y(d.b[2]))
      .attr("stroke", inkColor).attr("stroke-width", 1.8);

    // outliers
    const pts = [];
    r.outs[qi].forEach(o => o.slice(1).forEach(v => pts.push({ slot: slots[o[0]], v })));
    g.append("g").selectAll("circle").data(pts).join("circle")
      .attr("cx", d => xc(d.slot)).attr("cy", d => y(d.v)).attr("r", 2.3)
      .attr("fill", "#262626");

    g.append("rect").attr("width", panelW).attr("height", panelH)
      .attr("fill", "none").attr("stroke", inkColor).attr("stroke-width", 1);

    // left axis
    if (qi === 0) {
      const ax = g.append("g");
      ax.selectAll("line").data(r.ticks).join("line")
        .attr("x1", -3.7).attr("x2", 0).attr("y1", d => y(d)).attr("y2", d => y(d))
        .attr("stroke", inkColor).attr("stroke-width", 1);
      ax.selectAll("text").data(r.ticks).join("text")
        .attr("x", -6).attr("y", d => y(d)).attr("dy", "0.35em")
        .attr("text-anchor", "end").attr("font-size", 13).attr("fill", "#4D4D4D")
        .text(d => r.fmt(d));
    }

    // bottom axis
    if (ri === rowDefs.length - 1) {
      const ax = g.append("g").attr("transform", `translate(0,${panelH})`);
      ax.selectAll("line").data(slots).join("line")
        .attr("x1", xc).attr("x2", xc).attr("y1", 0).attr("y2", 3.7)
        .attr("stroke", inkColor).attr("stroke-width", 1);
      ax.selectAll("text").data(slots.filter(s => s.endsWith(":00"))).join("text")
        .attr("transform", d => `translate(${xc(d)},6) rotate(-90)`)
        .attr("dy", "0.35em").attr("text-anchor", "end")
        .attr("font-size", 13).attr("fill", "#4D4D4D").text(d => d);
    }

    // top strips
    if (ri === 0) {
      [yearLabel, q].forEach((lab, k) => {
        const sy = plotTop - (2 - k) * stripH;
        svg.append("rect").attr("x", left).attr("y", sy).attr("width", panelW).attr("height", stripH)
          .attr("fill", "#D9D9D9").attr("stroke", inkColor).attr("stroke-width", 1);
        svg.append("text").attr("x", left + panelW / 2).attr("y", sy + stripH / 2).attr("dy", "0.35em")
          .attr("text-anchor", "middle").attr("font-size", 13).attr("fill", "#1A1A1A").text(lab);
      });
    }
  });

  // right strips
  [r.measure, scenarioLabel, r.period, regionLabel].forEach((lab, k) => {
    const sx = plotRight + k * stripW;
    svg.append("rect").attr("x", sx).attr("y", top).attr("width", stripW).attr("height", panelH)
      .attr("fill", "#D9D9D9").attr("stroke", inkColor).attr("stroke-width", 1);
    svg.append("text").attr("transform", `translate(${sx + stripW / 2},${top + panelH / 2}) rotate(90)`)
      .attr("dy", "0.35em").attr("text-anchor", "middle").attr("font-size", 13).attr("fill", "#1A1A1A").text(lab);
  });
});

// axis titles
svg.append("text").attr("transform", `translate(24,${(plotTop + plotBottom) / 2}) rotate(-90)`)
  .attr("text-anchor", "middle").attr("font-size", 15).attr("fill", "#000").text("Normalised kW");
svg.append("text").attr("x", (plotLeft + plotRight) / 2).attr("y", 912)
  .attr("text-anchor", "middle").attr("font-size", 15).attr("fill", "#000").text("Half-hour");

// legend
const lg = svg.append("g");
const lgTitle = lg.append("text").attr("x", 0).attr("y", 953).attr("font-size", 15).attr("fill", "#000").text("Contract type");
let cx = lgTitle.node().getComputedTextLength() + 10;
contractTypes.forEach(ct => {
  lg.append("rect").attr("x", cx).attr("y", 937).attr("width", 21).attr("height", 21)
    .attr("fill", color(ct)).attr("stroke", "#fff").attr("stroke-width", 1);
  const t = lg.append("text").attr("x", cx + 25).attr("y", 952).attr("font-size", 13).attr("fill", "#000").text(ct);
  cx += 25 + t.node().getComputedTextLength() + 4;
});
lg.attr("transform", `translate(${(plotLeft + plotRight) / 2 - cx / 2},0)`);
</script>
</body>
</html>
